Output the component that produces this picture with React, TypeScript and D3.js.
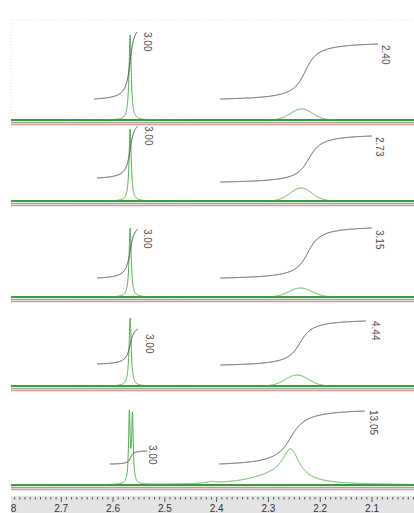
import * as d3 from 'd3'
import { useEffect, useRef } from 'react'

// chemical shift window (ppm, reversed like an NMR plot)
const PPM_DOMAIN: [number, number] = [2.797, 2.019]
const AXIS_TICKS = [2.8, 2.7, 2.6, 2.5, 2.4, 2.3, 2.2, 2.1]

// peaks per spectrum: [ppm, height, width, shape]  (g = gaussian, l = lorentzian)
const PEAKS: [number, number, number, string][][] = [
  [[2.567, 85, 0.0025, 'l'], [2.236, 11, 0.021, 'g']],
  [[2.567, 72, 0.0025, 'l'], [2.237, 13, 0.021, 'g']],
  [[2.567, 69, 0.0025, 'l'], [2.238, 9, 0.022, 'g']],
  [[2.567, 68, 0.0025, 'l'], [2.245, 11, 0.022, 'g']],
  [
    [2.5685, 69, 0.0018, 'l'],
    [2.5625, 67, 0.0018, 'l'],
    [2.257, 30, 0.02, 'l'],
    [2.29, 8, 0.06, 'l'],
    [2.41, 1.5, 0.012, 'l'],
  ],
]

// integral regions per spectrum: [from ppm, to ppm, centre ppm, width]
const INTEGRAL_RANGES: [number, number, number, number][][] = [
  [[2.637, 2.554, 2.567, 0.006], [2.393, 2.088, 2.229, 0.018]],
  [[2.631, 2.552, 2.567, 0.006], [2.393, 2.1, 2.222, 0.018]],
  [[2.631, 2.552, 2.567, 0.006], [2.393, 2.1, 2.224, 0.018]],
  [[2.631, 2.552, 2.567, 0.006], [2.393, 2.112, 2.239, 0.018]],
  [[2.606, 2.534, 2.566, 0.004], [2.395, 2.114, 2.257, 0.022]],
]
// integral curve level at the start and total rise (intensity units)
const INTEGRAL_START = [[21, 21], [23, 19], [19, 19], [22, 21], [21, 21]]
const INTEGRAL_RISE = [[67, 55], [52, 46], [49, 50], [35, 44], [13, 53]]
const INTEGRAL_LABELS = [
  ['3.00', '2.40'],
  ['3.00', '2.73'],
  ['3.00', '3.15'],
  ['3.00', '4.44'],
  ['3.00', '13.05'],
]

// layout
const W = 414
const H = 513
const PANEL_BASE = [120, 201, 297, 386, 485]
const LABEL_OFFSET: [number, number][][] = [
  [[7, 0], [4, 1]],
  [[7, 0], [4, 1]],
  [[6, 0], [4, 2]],
  [[8, 5], [6, 0]],
  [[2, -6], [5, -1]],
]

const GREEN = '#4caf4c'
const GREEN_DARK = '#3a9a3a'

function lineshape(v: number, p: [number, number, number, string]) {
  const d = (v - p[0]) / p[2]
  return p[3] === 'g' ? p[1] * Math.exp(-0.5 * d * d) : p[1] / (1 + d * d)
}

export default function App() {
  const ref = useRef<SVGSVGElement | null>(null)

  useEffect(() => {
    const svgEl = ref.current
    if (!svgEl) return
    const svg = d3.select(svgEl)
    svg.selectAll('*').remove()

    const x = d3.scaleLinear().domain(PPM_DOMAIN).range([11, W])
    const n = 4000
    const grid = d3.range(n + 1).map((i) => PPM_DOMAIN[0] + ((PPM_DOMAIN[1] - PPM_DOMAIN[0]) * i) / n)

    svg
      .append('defs')
      .append('clipPath')
      .attr('id', 'ruler-clip')
      .append('rect')
      .attr('x', 11)
      .attr('y', 0)
      .attr('width', W - 11)
      .attr('height', H)

    // faint frame of the top spectrum
    svg
      .append('path')
      .attr('d', `M11,${PANEL_BASE[0]} V20 H${W}`)
      .attr('fill', 'none')
      .attr('stroke', '#e2e2e2')
      .attr('stroke-dasharray', '1,2')

    PANEL_BASE.forEach((base, pi) => {
      const g = svg.append('g')
      const y = (v: number) => base - v

      g.append('line')
        .attr('x1', 11).attr('x2', W)
        .attr('y1', base + 4.5).attr('y2', base + 4.5)
        .attr('stroke', '#d99a9a').attr('stroke-width', 1.5)
      g.append('line')
        .attr('x1', 11).attr('x2', W)
        .attr('y1', base + 2.5).attr('y2', base + 2.5)
        .attr('stroke', '#a3a3a3').attr('stroke-width', 1.5)
      g.append('line')
        .attr('x1', 11).attr('x2', W)
        .attr('y1', base).attr('y2', base)
        .attr('stroke', GREEN_DARK).attr('stroke-width', 2)

      const spec = d3
        .line<number>()
        .x((v) => x(v))
        .y((v) => y(d3.sum(PEAKS[pi], (p) => lineshape(v, p))))
      g.append('path')
        .attr('d', spec(grid))
        .attr('fill', 'none')
        .attr('stroke', GREEN)
        .attr('stroke-width', 1)

      INTEGRAL_RANGES[pi].forEach((r, ri) => {
        const [from, to, c, w] = r
        const at = (v: number) => Math.atan((c - v) / w)
        const a0 = at(from)
        const a1 = at(to)
        const start = INTEGRAL_START[pi][ri]
        const rise = INTEGRAL_RISE[pi][ri]
        const pts = grid.filter((v) => v <= from && v >= to)
        const curve = d3
          .line<number>()
          .x((v) => x(v))
          .y((v) => y(start + (rise * (at(v) - a0)) / (a1 - a0)))
        g.append('path')
          .attr('d', curve(pts))
          .attr('fill', 'none')
          .attr('stroke', '#4a4a4a')
          .attr('stroke-width', 1)

        const [dx, dy] = LABEL_OFFSET[pi][ri]
        const lx = x(to) + dx
        const ly = y(start + rise) + dy
        g.append('text')
          .attr('transform', `translate(${lx},${ly}) rotate(90)`)
          .attr('font-family', 'Liberation Sans, Arial, sans-serif')
          .attr('font-size', 10)
          .attr('fill', '#544c46')
          .text(INTEGRAL_LABELS[pi][ri])
      })
    })

    // ruler
    const ruler = svg.append('g').attr('clip-path', 'url(#ruler-clip)')
    ruler.append('rect').attr('x', 11).attr('y', 496).attr('width', W - 11).attr('height', H - 496).attr('fill', '#e4e4e4')
    const minor = d3.range(279, 201, -1).map((k) => k / 100)
    ruler
      .selectAll('line.minor')
      .data(minor)
      .join('line')
      .attr('x1', (d) => x(d)).attr('x2', (d) => x(d))
      .attr('y1', 497).attr('y2', (d) => (Math.abs(d * 10 - Math.round(d * 10)) < 1e-6 ? 502 : 499.5))
      .attr('stroke', '#555')
      .attr('stroke-width', 1)
    ruler
      .selectAll('text')
      .data(AXIS_TICKS)
      .join('text')
      .attr('x', (d) => x(d))
      .attr('y', 512)
      .attr('text-anchor', 'middle')
      .attr('font-family', 'Liberation Sans, Arial, sans-serif')
      .attr('font-size', 10)
      .attr('fill', '#333')
      .text((d) => d.toFixed(1))
  }, [])

  return (
    <svg
      ref={ref}
      width={W}
      height={H}
      style={{ position: 'absolute', left: 0, top: 0, background: '#fff' }}
    />
  )
}
